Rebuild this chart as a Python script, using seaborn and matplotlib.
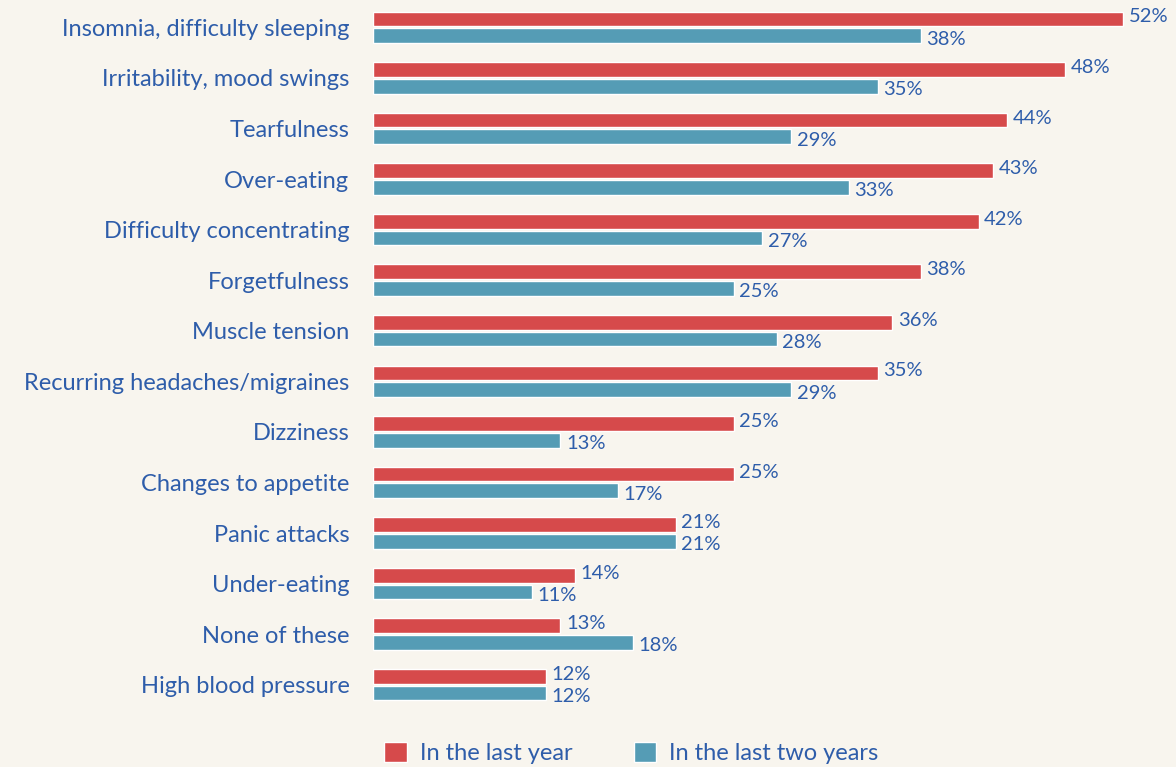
import pandas as pd
import matplotlib.pyplot as plt
import seaborn as sns

symptoms = ["Insomnia, difficulty sleeping", "Irritability, mood swings", "Tearfulness",
            "Over-eating", "Difficulty concentrating", "Forgetfulness", "Muscle tension",
            "Recurring headaches/migraines", "Dizziness", "Changes to appetite",
            "Panic attacks", "Under-eating", "None of these", "High blood pressure"]
last_year = [52, 48, 44, 43, 42, 38, 36, 35, 25, 25, 21, 14, 13, 12]
last_two_years = [38, 35, 29, 33, 27, 25, 28, 29, 13, 17, 21, 11, 18, 12]
series = ["In the last year", "In the last two years"]

df = pd.DataFrame({
    "symptom": symptoms * 2,
    "pct": last_year + last_two_years,
    "period": [series[0]] * len(symptoms) + [series[1]] * len(symptoms),
})

bg = "#F8F5EE"
blue = "#2E5DAA"
red = "#D64A4B"
teal = "#559CB5"

sns.set_style("white")
plt.rcParams['font.family'] = ['Lato', 'DejaVu Sans']

fig = plt.figure(figsize=(11.76, 7.67), dpi=100, facecolor=bg)
ax = fig.add_axes([373 / 1176, 57 / 767, 800 / 1176, 708 / 767])
ax.set_facecolor(bg)

sns.barplot(data=df, x="pct", y="symptom", hue="period", orient="h",
            palette=[red, teal], hue_order=series, order=symptoms,
            width=0.66, gap=0.12, saturation=1, ax=ax)

# value labels, nudged up for the red bars and down for the teal ones
for cont, dy in zip(ax.containers, [1.5, -2.5]):
    for t in ax.bar_label(cont, fmt="%d%%", padding=4, color=blue, fontsize=14.5):
        t.xyann = (4, dy)

ax.set_xlim(0, 800 / 14.42)
ax.set_xlabel("")
ax.set_ylabel("")
ax.set_xticks([])
ax.tick_params(axis="y", length=0, pad=17, labelsize=17, labelcolor=blue)
sns.despine(ax=ax, left=True, bottom=True)

ax.legend(loc="center left", bbox_to_anchor=(363 / 1176, 14 / 767),
          bbox_transform=fig.transFigure, ncol=2, frameon=False,
          handlelength=0.95, handleheight=0.95, handletextpad=0.55,
          columnspacing=2.6, fontsize=17, labelcolor=blue)

fig.savefig("out.png", dpi=100, facecolor=bg)
